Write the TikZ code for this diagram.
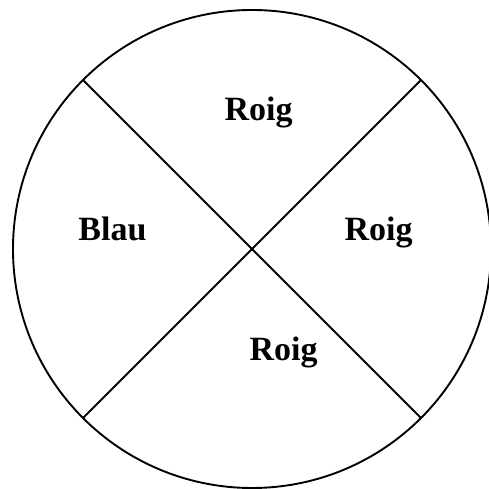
\documentclass[tikz,border=0pt]{standalone}
\usepackage{fontspec}
\setmainfont{Liberation Serif}
\tikzset{lbl/.style={anchor=base,inner sep=0pt,font=\fontsize{34}{40}\selectfont\bfseries},
 edge/.style={line width=1.9pt}}
\begin{document}
\begin{tikzpicture}[x=1pt,y=-1pt]
\useasboundingbox (0,0) rectangle (489,489);
\coordinate (c) at (252,249);
\draw[edge] (c) circle [radius=239];
\coordinate (ul) at (83,80);
\coordinate (lr) at (421,418);
\coordinate (ur) at (421,80);
\coordinate (ll) at (83,418);
\draw[edge] (ul) -- (lr);
\draw[edge] (ur) -- (ll);
\node[lbl] (t) at (258.5,121) {Roig};
\node[lbl] (l) at (112.5,240) {Blau};
\node[lbl] (r) at (378.5,240.7) {Roig};
\node[lbl] (b) at (283.5,360.7) {Roig};
\end{tikzpicture}
\end{document}
